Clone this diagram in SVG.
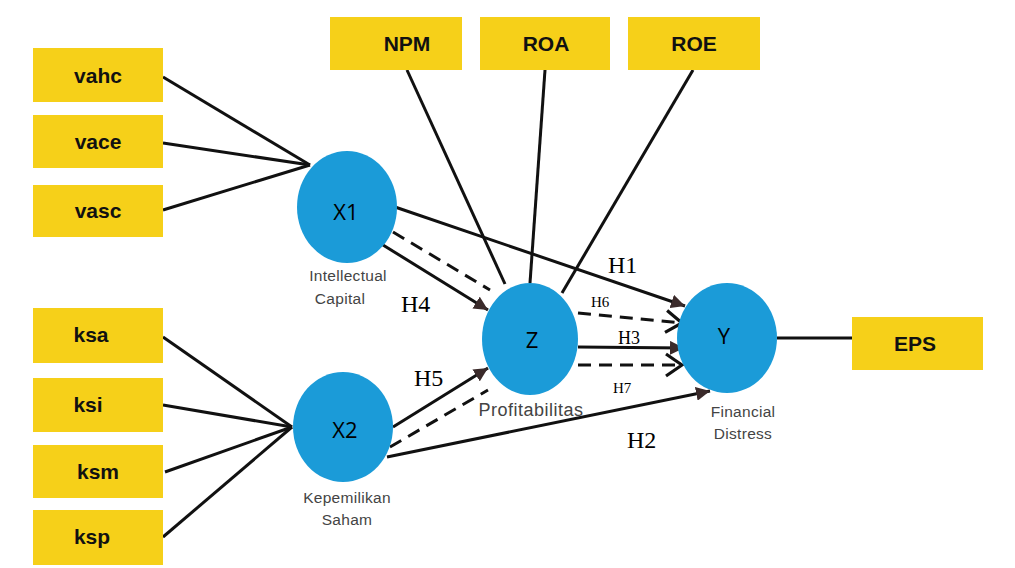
<svg xmlns="http://www.w3.org/2000/svg" width="1015" height="568" viewBox="0 0 1015 568">
<defs>
<style>
.box{fill:#F6D019;}
.bt{font-family:"Liberation Sans",Arial,sans-serif;font-weight:bold;font-size:21px;fill:#111;text-anchor:middle;}
.circ{fill:#1B9BD8;}
.ct{font-family:"Open Sans","DejaVu Sans",sans-serif;font-size:22px;fill:#000;text-anchor:middle;}
.lbl{font-family:"Liberation Sans",Arial,sans-serif;font-size:15.5px;fill:#444;text-anchor:middle;letter-spacing:0.3px;}
.h{font-family:"Liberation Serif","Times New Roman",serif;fill:#000;}
.ln{stroke:#111;stroke-width:3;fill:none;}
.ds{stroke:#111;stroke-width:3;fill:none;stroke-dasharray:13 8;}
</style>
<marker id="tri" viewBox="0 0 10 10" refX="10" refY="5" markerWidth="14" markerHeight="14" markerUnits="userSpaceOnUse" orient="auto">
<path d="M0,0 L10,5 L0,10 z" fill="#3a2a2a"/>
</marker>
<marker id="chev" viewBox="-2 -2 20 26" refX="16" refY="11" markerWidth="20" markerHeight="26" markerUnits="userSpaceOnUse" orient="auto">
<path d="M0,0 L16,11 L0,22" fill="none" stroke="#111" stroke-width="3.2"/>
</marker>
</defs>
<rect width="1015" height="568" fill="#fff"/>
<g id="connectors">
<line class="ln" x1="163" y1="77" x2="310" y2="165"/>
<line class="ln" x1="163" y1="143" x2="310" y2="165"/>
<line class="ln" x1="163" y1="210" x2="310" y2="165"/>
<line class="ln" x1="163" y1="337" x2="292" y2="427"/>
<line class="ln" x1="163" y1="405" x2="292" y2="427"/>
<line class="ln" x1="165" y1="472" x2="292" y2="427"/>
<line class="ln" x1="163" y1="537" x2="292" y2="427"/>
<line class="ln" x1="407" y1="70" x2="505" y2="284"/>
<line class="ln" x1="545" y1="70" x2="530" y2="283"/>
<line class="ln" x1="693" y1="70" x2="562" y2="293"/>
<line class="ln" x1="777" y1="338" x2="852" y2="338"/>
<line class="ln" x1="395" y1="207" x2="685" y2="306" marker-end="url(#tri)"/>
<line class="ln" x1="383" y1="245" x2="488" y2="310" marker-end="url(#tri)"/>
<line class="ds" x1="393" y1="232" x2="490" y2="290"/>
<line class="ln" x1="393" y1="427" x2="488" y2="368" marker-end="url(#tri)"/>
<line class="ds" x1="390" y1="447" x2="488" y2="390"/>
<line class="ln" x1="387" y1="457" x2="710" y2="391" marker-end="url(#tri)"/>
<line class="ds" x1="578" y1="313" x2="682" y2="323" marker-end="url(#chev)"/>
<line class="ln" x1="578" y1="347" x2="684" y2="348" marker-end="url(#tri)"/>
<line class="ds" x1="578" y1="365" x2="682" y2="365" marker-end="url(#chev)"/>
</g>
<g id="vahc"><rect class="box" x="33" y="48" width="130" height="54"/><text class="bt" x="98" y="83">vahc</text></g>
<g id="vace"><rect class="box" x="33" y="115" width="130" height="53"/><text class="bt" x="98" y="149">vace</text></g>
<g id="vasc"><rect class="box" x="33" y="185" width="130" height="52"/><text class="bt" x="98" y="218">vasc</text></g>
<g id="ksa"><rect class="box" x="33" y="308" width="130" height="55"/><text class="bt" x="91" y="342">ksa</text></g>
<g id="ksi"><rect class="box" x="33" y="378" width="130" height="54"/><text class="bt" x="88" y="412">ksi</text></g>
<g id="ksm"><rect class="box" x="33" y="445" width="130" height="53"/><text class="bt" x="98" y="479">ksm</text></g>
<g id="ksp"><rect class="box" x="33" y="510" width="130" height="55"/><text class="bt" x="92" y="544">ksp</text></g>
<g id="NPM"><rect class="box" x="330" y="17" width="132" height="53"/><text class="bt" x="407" y="51">NPM</text></g>
<g id="ROA"><rect class="box" x="480" y="17" width="130" height="53"/><text class="bt" x="546" y="51">ROA</text></g>
<g id="ROE"><rect class="box" x="628" y="17" width="132" height="53"/><text class="bt" x="694" y="51">ROE</text></g>
<g id="EPS"><rect class="box" x="852" y="317" width="131" height="53"/><text class="bt" x="915" y="351">EPS</text></g>
<g id="X1"><ellipse class="circ" cx="347" cy="207" rx="50" ry="56"/><text class="ct" x="346" y="220">X1</text>
<text class="lbl" x="348" y="281">Intellectual</text><text class="lbl" x="340" y="304">Capital</text></g>
<g id="X2"><ellipse class="circ" cx="343" cy="427" rx="50" ry="55"/><text class="ct" x="345" y="438">X2</text>
<text class="lbl" x="347" y="503">Kepemilikan</text><text class="lbl" x="347" y="525">Saham</text></g>
<g id="Z"><ellipse class="circ" cx="530" cy="339" rx="48" ry="56"/><text class="ct" x="532" y="348">Z</text>
<text class="lbl" x="531" y="416" style="font-size:18px;letter-spacing:0.5px">Profitabilitas</text></g>
<g id="Y"><ellipse class="circ" cx="727" cy="338" rx="50" ry="55"/><text class="ct" x="724" y="344">Y</text>
<text class="lbl" x="743" y="417">Financial</text><text class="lbl" x="743" y="439">Distress</text></g>
<g id="labels">
<text class="h" x="608" y="273" font-size="24">H1</text>
<text class="h" x="401" y="312" font-size="24">H4</text>
<text class="h" x="591" y="307" font-size="15">H6</text>
<text class="h" x="618" y="344" font-size="18">H3</text>
<text class="h" x="414" y="386" font-size="24">H5</text>
<text class="h" x="613" y="393" font-size="15">H7</text>
<text class="h" x="627" y="448" font-size="24">H2</text>
</g>
</svg>
